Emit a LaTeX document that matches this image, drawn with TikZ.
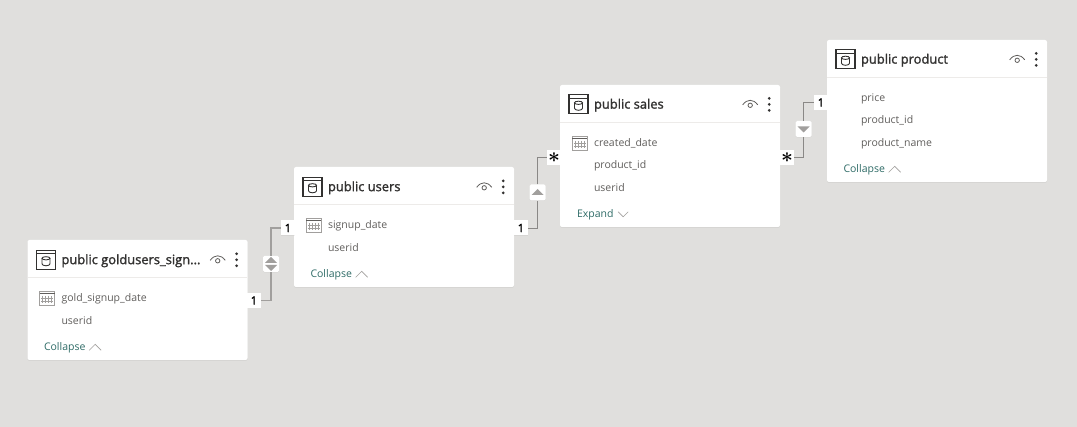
\documentclass[tikz,border=0pt]{standalone}
\usepackage{fontspec}
\setmainfont{Open Sans}
\newfontfamily\titlefont{Open Sans}[FakeBold=1.6]
\usetikzlibrary{positioning,shadows}
\definecolor{canvasgrey}{HTML}{E0DFDD}
\definecolor{titleink}{HTML}{323130}
\definecolor{fieldink}{HTML}{605E5C}
\definecolor{linkink}{HTML}{2E6B66}
\definecolor{ruleink}{HTML}{EDEBE9}
\definecolor{relink}{HTML}{8A8886}
\definecolor{arrowink}{HTML}{A19F9D}
\tikzset{
  card/.style={fill=white,rounded corners=2pt,minimum width=220pt,inner sep=0pt,
    drop shadow={opacity=0.10,shadow xshift=0pt,shadow yshift=-1pt}},
  cardtitle/.style={anchor=west,inner sep=0pt,text=titleink,font=\titlefont\fontsize{12.9}{14}\selectfont},
  cardrow/.style={anchor=west,inner sep=0pt,text=fieldink,text height=8pt,text depth=2pt,font=\fontsize{10.5}{12}\selectfont},
  cardlink/.style={anchor=west,inner sep=0pt,text=linkink,font=\fontsize{10.5}{12}\selectfont},
  tagbox/.style={fill=white,minimum width=14pt,minimum height=15pt,inner sep=0pt,text=black,
    font=\titlefont\fontsize{11.5}{12}\selectfont,
    drop shadow={opacity=0.10,shadow xshift=0pt,shadow yshift=-0.5pt}},
  startag/.style={tagbox,font=\fontsize{22}{22}\selectfont\boldmath},
  filterbox/.style={fill=white,rounded corners=1.5pt,minimum width=16pt,minimum height=16pt,inner sep=0pt,
    drop shadow={opacity=0.12,shadow xshift=0pt,shadow yshift=-0.5pt}},
  rel/.style={draw=relink,line width=0.8pt},
  relbold/.style={draw=arrowink,line width=1.8pt},
  tableicon/.pic={
    \draw[titleink,line width=1.1pt] (-9.5,-9.5) rectangle (9.5,9.5);
    \draw[titleink,line width=1.1pt] (-9.5,-6) -- (9.5,-6);
    \draw[titleink,line width=0.9pt] (-4,-1.5) -- (-4,4) arc[start angle=180,end angle=360,x radius=4,y radius=-2] -- (4,-1.5);
    \draw[titleink,line width=0.9pt] (0,-1.5) ellipse[x radius=4,y radius=1.6];
  },
  calicon/.pic={
    \draw[arrowink,line width=0.7pt] (-7.5,-6.5) rectangle (7.5,7);
    \draw[fieldink,line width=1pt] (-7.5,-4.5) -- (7.5,-4.5);
    \foreach \gx in {-4.5,-1.5,1.5,4.5} {\draw[arrowink,line width=0.8pt] (\gx,-2.5) -- (\gx,5);}
    \foreach \gy in {0,2.5} {\draw[arrowink,line width=0.5pt] (-6,\gy) -- (6,\gy);}
  },
  eyeicon/.pic={
    \draw[fieldink,line width=0.8pt] (-7.5,0.5) .. controls (-3,-5.5) and (3,-5.5) .. (7.5,0.5);
    \draw[fieldink,line width=0.8pt] (0,1) circle[radius=2.2];
  },
  dotsicon/.pic={
    \foreach \dy in {-6,0,6} {\fill[titleink] (0,\dy) circle[radius=1.5];}
  },
  chevup/.pic={\draw[arrowink,line width=0.6pt] (-6,3) -- (0,-3) -- (6,3);},
  chevdown/.pic={\draw[arrowink,line width=0.6pt] (-5,-2.5) -- (0,2.5) -- (5,-2.5);},
  triup/.pic={\fill[arrowink] (-6,2.5) -- (0,-3.5) -- (6,2.5) -- cycle;},
  tridown/.pic={\fill[arrowink] (-6,-2.5) -- (0,3.5) -- (6,-2.5) -- cycle;},
}
\begin{document}
\begin{tikzpicture}[x=1pt,y=-1pt]
\fill[canvasgrey] (0,0) rectangle (1077,427);
\useasboundingbox (0,0) rectangle (1077,427);

% gold users table
\node[card,minimum height=120pt](goldcard) at (137.5,300){};
\draw[ruleink] (28,277) -- (247,277);
\node[cardtitle,right=34pt of goldcard.north west,yshift=-21pt](goldtitle){public goldusers\_sign...};
\node[cardrow,below=37.5pt of goldtitle.west,anchor=west](goldrow1){gold\_signup\_date};
\node[cardrow,below=23pt of goldrow1.west,anchor=west](goldrow2){userid};
\node[cardlink,left=17.5pt of goldrow2.west,yshift=-26pt,anchor=west](goldlink){Collapse};
\pic at ([xshift=18.7pt,yshift=1pt]goldcard.north west |- goldtitle.west) {tableicon};
\pic at ([xshift=-30pt,yshift=1pt]goldcard.north east |- goldtitle.west) {eyeicon};
\pic at ([xshift=-11pt,yshift=1pt]goldcard.north east |- goldtitle.west) {dotsicon};
\pic at ([xshift=-14pt]goldrow1.west) {calicon};
\pic at ([xshift=9.5pt]goldlink.east) {chevup};

% users table
\node[card,minimum height=120pt](userscard) at (404,227){};
\draw[ruleink] (294,204) -- (514,204);
\node[cardtitle,right=34pt of userscard.north west,yshift=-21pt](userstitle){public users};
\node[cardrow,below=37.5pt of userstitle.west,anchor=west](usersrow1){signup\_date};
\node[cardrow,below=23pt of usersrow1.west,anchor=west](usersrow2){userid};
\node[cardlink,left=17.5pt of usersrow2.west,yshift=-26pt,anchor=west](userslink){Collapse};
\pic at ([xshift=18.7pt,yshift=1pt]userscard.north west |- userstitle.west) {tableicon};
\pic at ([xshift=-30pt,yshift=1pt]userscard.north east |- userstitle.west) {eyeicon};
\pic at ([xshift=-11pt,yshift=1pt]userscard.north east |- userstitle.west) {dotsicon};
\pic at ([xshift=-14pt]usersrow1.west) {calicon};
\pic at ([xshift=9.5pt]userslink.east) {chevup};

% sales table
\node[card,minimum height=142pt](salescard) at (670,156){};
\draw[ruleink] (560,122) -- (780,122);
\node[cardtitle,right=34pt of salescard.north west,yshift=-20.5pt](salestitle){public sales};
\node[cardrow,below=38pt of salestitle.west,anchor=west](salesrow1){created\_date};
\node[cardrow,below=22.5pt of salesrow1.west,anchor=west](salesrow2){product\_id};
\node[cardrow,below=22.5pt of salesrow2.west,anchor=west](salesrow3){userid};
\node[cardlink,left=17pt of salesrow3.west,yshift=-26pt,anchor=west](saleslink){Expand};
\pic at ([xshift=18.7pt,yshift=1pt]salescard.north west |- salestitle.west) {tableicon};
\pic at ([xshift=-30pt,yshift=1pt]salescard.north east |- salestitle.west) {eyeicon};
\pic at ([xshift=-11pt,yshift=1pt]salescard.north east |- salestitle.west) {dotsicon};
\pic at ([xshift=-14pt]salesrow1.west) {calicon};
\pic at ([xshift=9.5pt]saleslink.east) {chevdown};

% product table
\node[card,minimum height=142pt](productcard) at (937,111){};
\draw[ruleink] (827,77) -- (1047,77);
\node[cardtitle,right=34pt of productcard.north west,yshift=-20.5pt](producttitle){public product};
\node[cardrow,below=38pt of producttitle.west,anchor=west](productrow1){price};
\node[cardrow,below=22.5pt of productrow1.west,anchor=west](productrow2){product\_id};
\node[cardrow,below=22.5pt of productrow2.west,anchor=west](productrow3){product\_name};
\node[cardlink,left=17.5pt of productrow3.west,yshift=-26pt,anchor=west](productlink){Collapse};
\pic at ([xshift=18.7pt,yshift=1pt]productcard.north west |- producttitle.west) {tableicon};
\pic at ([xshift=-30pt,yshift=1pt]productcard.north east |- producttitle.west) {eyeicon};
\pic at ([xshift=-11pt,yshift=1pt]productcard.north east |- producttitle.west) {dotsicon};
\pic at ([xshift=9.5pt]productlink.east) {chevup};

% relationships
\node[tagbox](goldtag) at (254,300.5){1};
\node[tagbox](userstagl) at (288,228){1};
\node[filterbox](goldfilter) at (271,264){};
\draw[relbold] (goldtag.east) -| (goldfilter.south);
\draw[relbold] (goldfilter.north) |- (userstagl.west);
\pic at ([yshift=-3.5pt]goldfilter.center) {tridown};
\pic at ([yshift=3.5pt]goldfilter.center) {triup};

\node[tagbox](userstagr) at (521,228){1};
\node[startag](salestagl) at (554,157.5){$*$};
\node[filterbox](usersfilter) at (537.5,192.5){};
\draw[rel] (userstagr.east) -| (usersfilter.south);
\draw[rel] (usersfilter.north) |- (salestagl.west);
\pic at (usersfilter.center) {triup};

\node[startag](salestagr) at (787,157.5){$*$};
\node[tagbox](producttag) at (821,102.5){1};
\node[filterbox](salesfilter) at (803.5,129){};
\draw[rel] (salestagr.east) -| (salesfilter.south);
\draw[rel] (salesfilter.north) |- (producttag.west);
\pic at (salesfilter.center) {tridown};
\end{tikzpicture}
\end{document}
